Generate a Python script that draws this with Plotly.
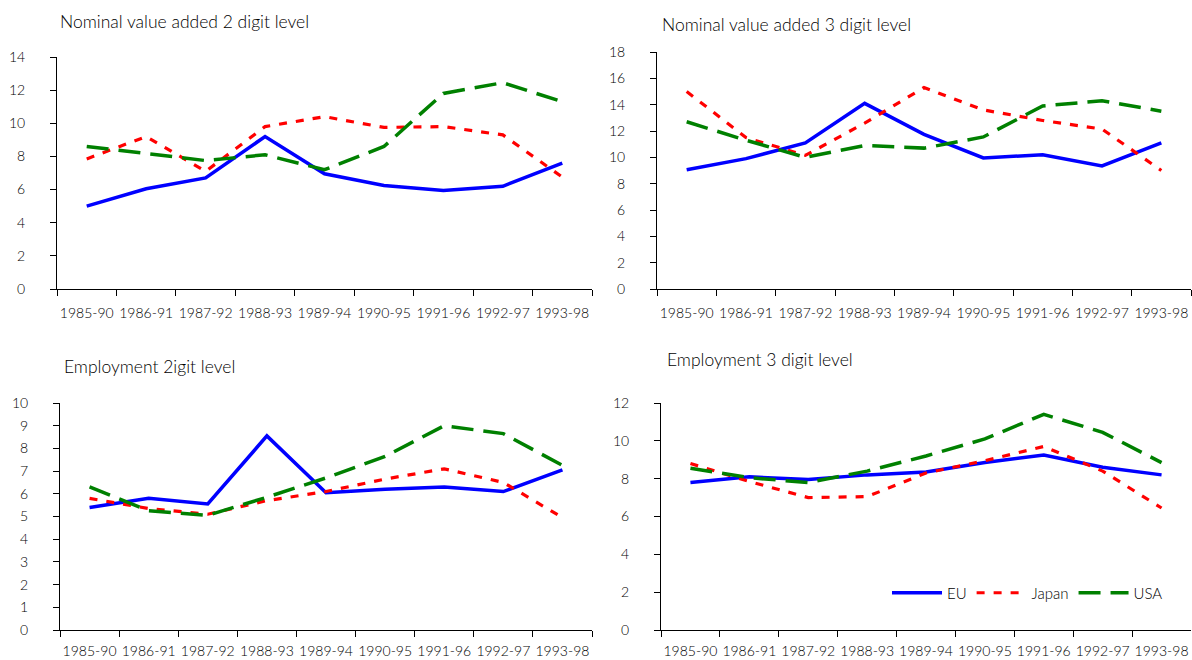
import plotly.graph_objects as go

W, H = 1192, 660

periods = ["1985-90", "1986-91", "1987-92", "1988-93", "1989-94",
           "1990-95", "1991-96", "1992-97", "1993-98"]

# Nominal value added, 2 digit level
va2_eu = [5.0, 6.05, 6.7, 9.2, 6.95, 6.25, 5.95, 6.2, 7.6]
va2_japan = [7.85, 9.2, 7.1, 9.8, 10.4, 9.75, 9.8, 9.3, 6.75]
va2_usa = [8.6, 8.2, 7.75, 8.1, 7.2, 8.6, 11.8, 12.45, 11.3]

# Nominal value added, 3 digit level
va3_eu = [9.05, 9.9, 11.1, 14.1, 11.75, 9.95, 10.2, 9.35, 11.1]
va3_japan = [15.0, 11.5, 10.15, 12.6, 15.3, 13.6, 12.8, 12.15, 9.0]
va3_usa = [12.7, 11.3, 10.0, 10.9, 10.7, 11.55, 13.9, 14.3, 13.5]

# Employment, 2 digit level
emp2_eu = [5.4, 5.8, 5.55, 8.55, 6.05, 6.2, 6.3, 6.1, 7.05]
emp2_japan = [5.8, 5.35, 5.1, 5.7, 6.1, 6.65, 7.1, 6.5, 4.95]
emp2_usa = [6.3, 5.25, 5.05, 5.85, 6.7, 7.65, 9.0, 8.65, 7.25]

# Employment, 3 digit level
emp3_eu = [7.8, 8.1, 7.95, 8.2, 8.35, 8.85, 9.25, 8.6, 8.2]
emp3_japan = [8.8, 7.85, 7.0, 7.05, 8.3, 8.95, 9.7, 8.4, 6.45]
emp3_usa = [8.55, 8.05, 7.8, 8.4, 9.2, 10.1, 11.4, 10.45, 8.85]

titles = ["Nominal value added 2 digit level", "Nominal value added 3 digit level",
          "Employment 2igit level", "Employment 3 digit level"]
y_max = [14, 18, 10, 12]
y_step = [2, 2, 1, 2]

panels = [
    (va2_eu, va2_japan, va2_usa),
    (va3_eu, va3_japan, va3_usa),
    (emp2_eu, emp2_japan, emp2_usa),
    (emp3_eu, emp3_japan, emp3_usa),
]

# plot-area boxes in pixels: (left, right, top, bottom)
boxes = [(57, 592, 57, 289), (657, 1191, 52, 289),
         (60, 592, 403, 630), (661, 1191, 403, 630)]
title_pos = [(58, 21), (660, 25), (62, 366), (665, 359)]
# gap between x tick marks and their labels (bottom row sits near the page edge)
x_label_gap = [11, 11, 8, 8]

FONT = "Lato"
LIGHT = 300
series_style = [
    ("EU", dict(color="#0000FF", width=3.5, dash="solid")),
    ("Japan", dict(color="#FF0000", width=3.2, dash="8px,9px")),
    ("USA", dict(color="#008000", width=3.5, dash="22px,10px")),
]

fig = go.Figure()
for i, data in enumerate(panels):
    sfx = "" if i == 0 else str(i + 1)
    for (name, line), values in zip(series_style, data):
        fig.add_trace(go.Scatter(
            x=periods, y=values, mode="lines", name=name, line=line,
            xaxis="x" + sfx, yaxis="y" + sfx,
            showlegend=(i == 3),
        ))

tick_font = dict(family=FONT, size=14, color="#000000", weight=LIGHT)

layout = dict(
    width=W, height=H,
    margin=dict(l=0, r=0, t=0, b=0, autoexpand=False),
    paper_bgcolor="white", plot_bgcolor="white",
    font=dict(family=FONT, size=14, color="#000000", weight=LIGHT),
    showlegend=True,
    legend=dict(
        orientation="h", xref="paper", yref="paper",
        x=1168 / W, xanchor="right", y=1 - 593 / H, yanchor="middle",
        bgcolor="rgba(0,0,0,0)", itemwidth=50,
        font=dict(family=FONT, size=15, weight=LIGHT),
        tracegroupgap=0,
    ),
    annotations=[],
)

for i in range(4):
    l, r, t, b = boxes[i]
    sfx = "" if i == 0 else str(i + 1)
    layout["xaxis" + sfx] = dict(
        domain=[l / W, r / W], anchor="y" + sfx, type="category",
        range=[-0.5, len(periods) - 0.5], tickson="boundaries",
        showline=True, linecolor="#000000", linewidth=1,
        ticks="outside", ticklen=6, tickcolor="#000000", tickwidth=1,
        tickangle=0, ticklabelstandoff=x_label_gap[i], showgrid=False,
        zeroline=False, tickfont=tick_font, automargin=False,
    )
    layout["yaxis" + sfx] = dict(
        domain=[1 - b / H, 1 - t / H], anchor="x" + sfx,
        range=[0, y_max[i]], tick0=0, dtick=y_step[i],
        showline=True, linecolor="#000000", linewidth=1,
        ticks="outside", ticklen=6, tickcolor="#000000", tickwidth=1,
        ticklabelstandoff=22, showgrid=False, zeroline=False,
        tickfont=tick_font, automargin=False,
    )
    tx, ty = title_pos[i]
    layout["annotations"].append(dict(
        text=titles[i], xref="paper", yref="paper",
        x=tx / W, y=1 - ty / H, xanchor="left", yanchor="middle",
        showarrow=False,
        font=dict(family=FONT, size=17.5, color="#000000", weight=LIGHT),
    ))

fig.update_layout(**layout)
fig.write_html("out.html")
